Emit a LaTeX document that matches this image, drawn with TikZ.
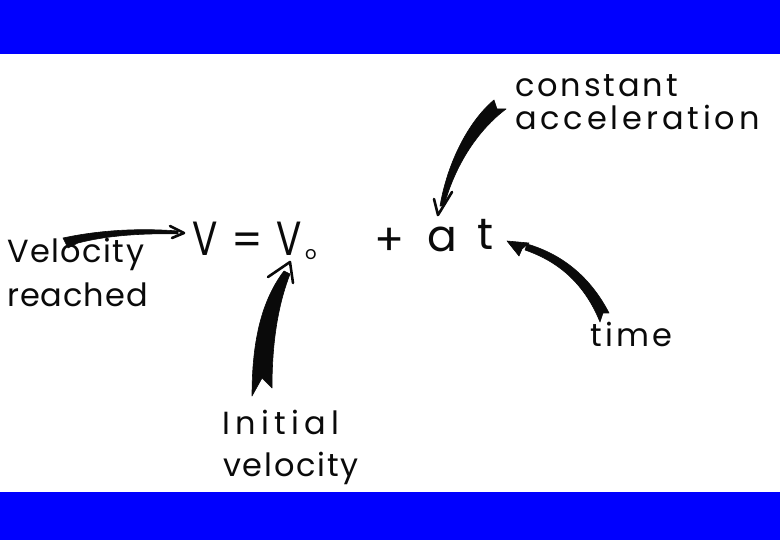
\documentclass[tikz,border=0pt]{standalone}
\usepackage{fontspec}
\setmainfont{Poppins}
\definecolor{barblue}{RGB}{0,0,255}
\definecolor{ink}{RGB}{10,10,10}
\tikzset{
  hand/.style={inner sep=0pt, anchor=base west, text=ink, font=\fontsize{32}{36}\selectfont},
  eqsym/.style={inner sep=0pt, anchor=base, text=ink, font=\fontsize{44}{48}\selectfont},
  brush/.style={fill=ink, draw=ink, line width=0.6pt, line join=round},
  barb/.style={draw=ink, line width=2.6pt, line cap=round, line join=round},
}
\begin{document}
\begin{tikzpicture}[x=1pt,y=-1pt]
\useasboundingbox (0,0) rectangle (780,540);
\fill[white] (0,0) rectangle (780,540);
\fill[barblue] (0,0) rectangle (780,54);
\fill[barblue] (0,492) rectangle (780,540);

% labels
\node[hand] (vel) at (7,263) {\addfontfeatures{LetterSpace=4.5}Velocity};
\node[hand] (reach) at (7,307) {\addfontfeatures{LetterSpace=3}reached};
\node[hand] (const) at (515,97) {\addfontfeatures{LetterSpace=9}constant};
\node[hand] (accel) at (515,130) {\addfontfeatures{LetterSpace=12}acceleration};
\node[hand] (time) at (590,347) {\addfontfeatures{LetterSpace=10}time};
\node[hand] (init) at (222,435) {\addfontfeatures{LetterSpace=16.5}Initial};
\node[hand] (vel2) at (223,476) {\addfontfeatures{LetterSpace=5.5}velocity};

% equation
\node[eqsym, font=\fontsize{48}{52}\selectfont] (V) at (205,256) {\scalebox{0.78}[1]{V}};
\node[eqsym] (eq) at (247,256) {=};
\node[eqsym, font=\fontsize{48}{52}\selectfont] (V0) at (289,256) {\scalebox{0.78}[1]{V}};
\node[inner sep=0pt, anchor=base, text=ink, font=\fontsize{18}{20}\selectfont] (sub) at (311,260) {o};
\node[eqsym] (plus) at (390,256) {+};
\node[eqsym] (a) at (442,252) {a};
\node[eqsym] (t) at (486,250) {t};

% connector end points
\coordinate (tipV) at (184,233);
\coordinate (tipV0) at (290,262);
\coordinate (tipa) at (438,215);
\coordinate (tipt) at (507,241);

% arrow: Velocity reached -> V
\fill[brush] (63,238) .. controls (100,230) and (140,228) .. (178,231)
  -- (178,234) .. controls (140,233) and (105,236) .. (78,243) -- (68,248) -- cycle;
\draw[barb] (170,226) -- (tipV) -- (172,238);

% arrow: Initial velocity -> V0
\fill[brush] (252,396) .. controls (252,340) and (262,300) .. (284,271)
  -- (290,274) .. controls (280,300) and (272,335) .. (272,388) -- (262,378) -- cycle;
\draw[barb] (268,277) -- (tipV0) -- (293,283);

% arrow: constant acceleration -> a
\fill[brush] (494,100) .. controls (470,120) and (448,160) .. (440,206)
  -- (444,206) .. controls (455,165) and (478,130) .. (506,109) -- (497,109) -- cycle;
\draw[barb] (434,199) -- (tipa) -- (452,192);

% arrow: time -> t
\fill[brush] (600,322) .. controls (585,285) and (560,262) .. (525,250)
  -- (527,244) .. controls (565,255) and (592,280) .. (609,313) -- (603,313) -- cycle;
\fill[brush] (tipt) -- (529,243) -- (522,249) -- (519,256) -- cycle;
\end{tikzpicture}
\end{document}
